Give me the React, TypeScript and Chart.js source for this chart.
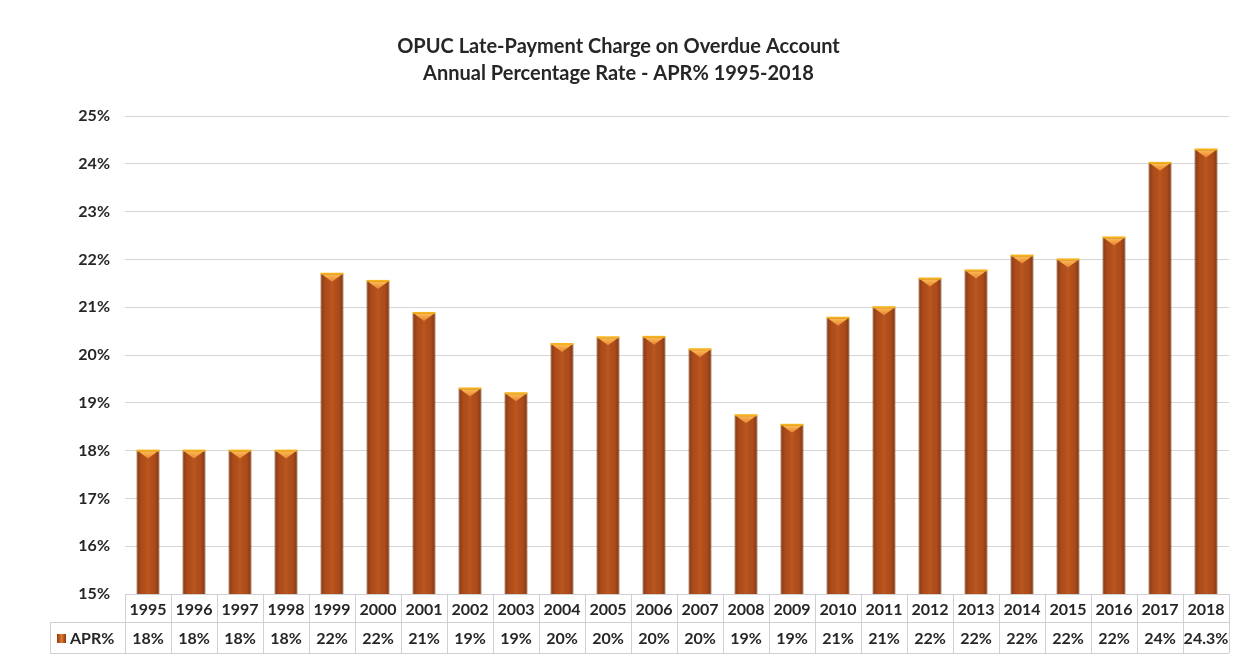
import React, { useEffect, useRef } from "react";
import { Chart, registerables } from "chart.js";

Chart.register(...registerables);

const years = [
  "1995", "1996", "1997", "1998", "1999", "2000", "2001", "2002", "2003", "2004", "2005", "2006",
  "2007", "2008", "2009", "2010", "2011", "2012", "2013", "2014", "2015", "2016", "2017", "2018",
];
const aprValues = [
  18, 18, 18, 18, 21.7, 21.55, 20.88, 19.3, 19.2, 20.23, 20.37, 20.38,
  20.12, 18.74, 18.54, 20.78, 21.0, 21.6, 21.77, 22.08, 22.0, 22.46, 24.02, 24.3,
];
const tableLabels = [
  "18%", "18%", "18%", "18%", "22%", "22%", "21%", "19%", "19%", "20%", "20%", "20%",
  "20%", "19%", "19%", "21%", "21%", "22%", "22%", "22%", "22%", "22%", "24%", "24.3%",
];
const titleLines = [
  "OPUC Late-Payment Charge on Overdue Account",
  "Annual Percentage Rate - APR% 1995-2018",
];
const seriesName = "APR%";
const yMin = 15;
const yMax = 25;
const yStep = 1;

const FONT = 'Lato, "Open Sans", "DejaVu Sans", sans-serif';
const TEXT = "#262626";
const GRID = "#d6d6d6";
const TABLE_LINE = "#d0d0d0";
const BAR = "#B24F1C";
const BAR_EDGE = "#6a2b0a";

const barDecorPlugin = {
  id: "barDecor",
  afterDatasetsDraw(chart: any) {
    const ctx = chart.ctx as CanvasRenderingContext2D;
    const meta = chart.getDatasetMeta(0);
    const bottom = chart.chartArea.bottom;
    ctx.save();
    meta.data.forEach((bar: any) => {
      const p = bar.getProps(["x", "y", "base", "width"], true);
      const l = p.x - p.width / 2;
      const r = p.x + p.width / 2;
      const b = Math.min(p.base, bottom);
      // cylinder-like shading
      const g = ctx.createLinearGradient(l, 0, r, 0);
      g.addColorStop(0, "rgba(70,25,0,0.40)");
      g.addColorStop(0.22, "rgba(70,25,0,0.05)");
      g.addColorStop(0.5, "rgba(255,140,60,0.12)");
      g.addColorStop(0.78, "rgba(70,25,0,0.05)");
      g.addColorStop(1, "rgba(70,25,0,0.45)");
      ctx.fillStyle = g;
      ctx.fillRect(l + 1, p.y + 1, p.width - 2, b - p.y - 1);
      // top bevel triangle
      const tg = ctx.createLinearGradient(0, p.y, 0, p.y + 8);
      tg.addColorStop(0, "#FFC25A");
      tg.addColorStop(1, "#E8842E");
      ctx.fillStyle = tg;
      ctx.beginPath();
      ctx.moveTo(l + 2, p.y + 1);
      ctx.lineTo(r - 2, p.y + 1);
      ctx.lineTo(p.x, p.y + 8);
      ctx.closePath();
      ctx.fill();
      // bright top edge
      ctx.fillStyle = "#F5B21E";
      ctx.fillRect(l, p.y - 1, p.width, 2);
    });
    ctx.restore();
  },
};

const tablePlugin = {
  id: "dataTable",
  afterDraw(chart: any) {
    const ctx = chart.ctx as CanvasRenderingContext2D;
    const xs = chart.scales.x;
    const area = chart.chartArea;
    const n = years.length;
    const cw = (xs.right - xs.left) / n;
    const top = area.bottom;
    const sep = top + 28;
    const bottom = top + 59;
    const legendLeft = 42;
    ctx.save();
    ctx.strokeStyle = TABLE_LINE;
    ctx.lineWidth = 1;
    ctx.beginPath();
    ctx.moveTo(xs.left, top + 0.5);
    ctx.lineTo(xs.right, top + 0.5);
    ctx.moveTo(legendLeft, sep + 0.5);
    ctx.lineTo(xs.right, sep + 0.5);
    ctx.moveTo(legendLeft, bottom + 0.5);
    ctx.lineTo(xs.right, bottom + 0.5);
    for (let i = 0; i <= n; i++) {
      const x = Math.round(xs.getPixelForValue(0) - cw / 2 + i * cw) + 0.5;
      ctx.moveTo(x, top);
      ctx.lineTo(x, bottom);
    }
    ctx.moveTo(legendLeft + 0.5, sep);
    ctx.lineTo(legendLeft + 0.5, bottom);
    ctx.stroke();

    // value row
    ctx.fillStyle = TEXT;
    ctx.font = `bold 16px ${FONT}`;
    ctx.textAlign = "center";
    ctx.textBaseline = "middle";
    const vy = (sep + bottom) / 2 + 1;
    tableLabels.forEach((t, i) => {
      ctx.fillText(t, xs.getPixelForValue(i), vy);
    });

    // legend cell
    const sx = legendLeft + 7;
    const sg = ctx.createLinearGradient(sx, 0, sx + 9, 0);
    sg.addColorStop(0, "#8a3a10");
    sg.addColorStop(0.5, "#E0782E");
    sg.addColorStop(1, "#8a3a10");
    ctx.fillStyle = sg;
    ctx.fillRect(sx, vy - 4.5, 9, 9);
    ctx.fillStyle = TEXT;
    ctx.textAlign = "left";
    ctx.fillText(seriesName, sx + 13, vy);
    ctx.restore();
  },
};

export default function App() {
  const ref = useRef<HTMLCanvasElement>(null);
  useEffect(() => {
    Chart.defaults.font.family = FONT;
    const chart = new Chart(ref.current!, {
      type: "bar",
      data: {
        labels: years,
        datasets: [
          {
            label: seriesName,
            data: aprValues,
            backgroundColor: BAR,
            borderColor: BAR_EDGE,
            borderWidth: 1,
            borderSkipped: false,
            barPercentage: 0.5,
            categoryPercentage: 1,
          },
        ],
      },
      options: {
        animation: false,
        responsive: true,
        maintainAspectRatio: false,
        layout: { padding: { left: 0, right: 18, top: 0, bottom: 5 } },
        plugins: {
          legend: { display: false },
          tooltip: { enabled: false },
          title: {
            display: true,
            text: titleLines,
            color: TEXT,
            font: { size: 20, weight: "bold", family: FONT, lineHeight: 1.35 },
            padding: { top: 25, bottom: 29 },
          },
        },
        scales: {
          x: {
            grid: { display: false, drawTicks: false },
            border: { display: false },
            ticks: {
              color: TEXT,
              font: { size: 16, weight: "bold", family: FONT },
              padding: 6,
              maxRotation: 0,
              autoSkip: false,
            },
            afterFit: (s: any) => {
              s.height = 59;
            },
          },
          y: {
            min: yMin,
            max: yMax,
            grid: { color: GRID, drawTicks: false },
            border: { display: false },
            ticks: {
              stepSize: yStep,
              color: TEXT,
              font: { size: 16, weight: "bold", family: FONT },
              padding: 15,
              callback: (v: any) => `${v}%`,
            },
            afterFit: (s: any) => {
              s.width = 117;
            },
          },
        },
      },
      plugins: [barDecorPlugin, tablePlugin],
    } as any);
    return () => chart.destroy();
  }, []);
  return (
    <div style={{ width: 1239, height: 650, position: "relative" }}>
      <canvas ref={ref} />
    </div>
  );
}
